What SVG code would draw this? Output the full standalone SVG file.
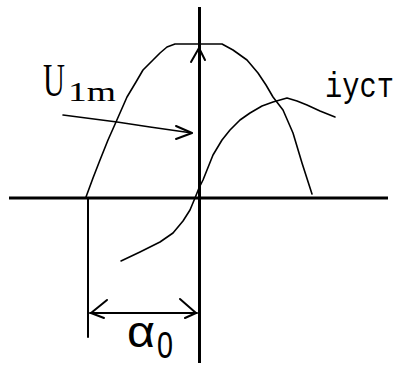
<svg xmlns="http://www.w3.org/2000/svg" width="404" height="365" viewBox="0 0 404 365">
<style>
.ax{stroke:#000;stroke-width:3;fill:none}
.ln{stroke:#000;stroke-width:2;fill:none;stroke-linejoin:round;stroke-linecap:round}
.cv{stroke:#000;stroke-width:1.6;fill:none;stroke-linejoin:round;stroke-linecap:round}
.serif{font-family:"Liberation Serif","Times New Roman",serif;fill:#000}
.mono{font-family:"Liberation Mono","Courier New",monospace;fill:#000}
.sans{font-family:"Liberation Sans",Arial,sans-serif;fill:#000}
</style>
<rect width="404" height="365" fill="#fff"/>
<g id="axes">
<line class="ax" x1="9" y1="198" x2="388" y2="198"/>
<line class="ax" x1="199.5" y1="7" x2="199.5" y2="363"/>
<line class="ln" x1="88" y1="198" x2="88" y2="337"/>
</g>
<g id="curves">
<path id="u-curve" class="cv" d="M86,197 L93,178 L100,160 L108,140 L116,122 L127,97 L136,82 L143,70 L153,60 L160,53 L167,47 L175,44 L222,44 L233,50 L247,60 L258,73 L266,85 L273,97 L283,110 L293,133 L302,163 L312,194"/>
<path id="i-curve" class="cv" d="M121,261 L140,252 L160,242 L173,233 L183,221 L190,210 L195,198 L199,188 L203,180 L213,155 L222,140 L230,130 L240,120 L250,113 L262,106 L273,102 L287,98 L297,101 L307,105 L320,111 L335,117"/>
</g>
<g id="connectors">
<polyline class="ln" points="191,62 199,48 205,60"/>
<polyline class="cv" points="63,115 117,122 150,127 192,133"/>
<polyline class="ln" points="176,126 192,133 176,139"/>
<line class="ln" x1="90" y1="313" x2="197" y2="313"/>
<polyline class="ln" points="107,300 91,313 104,318"/>
<polyline class="ln" points="180,299 196,313 185,318"/>
</g>
<g id="labels">
<text class="serif" transform="translate(43,96) scale(0.66,1)" font-size="46">U</text>
<text class="serif" x="68" y="101" font-size="28" textLength="48" lengthAdjust="spacingAndGlyphs">1m</text>
<text class="mono" transform="translate(325,97) scale(0.82,1)" font-size="35">iуст</text>
<text class="sans" x="127" y="347" font-size="44" textLength="28" lengthAdjust="spacingAndGlyphs">α</text>
<text class="sans" x="157" y="358" font-size="36" textLength="16" lengthAdjust="spacingAndGlyphs">0</text>
</g>
</svg>
